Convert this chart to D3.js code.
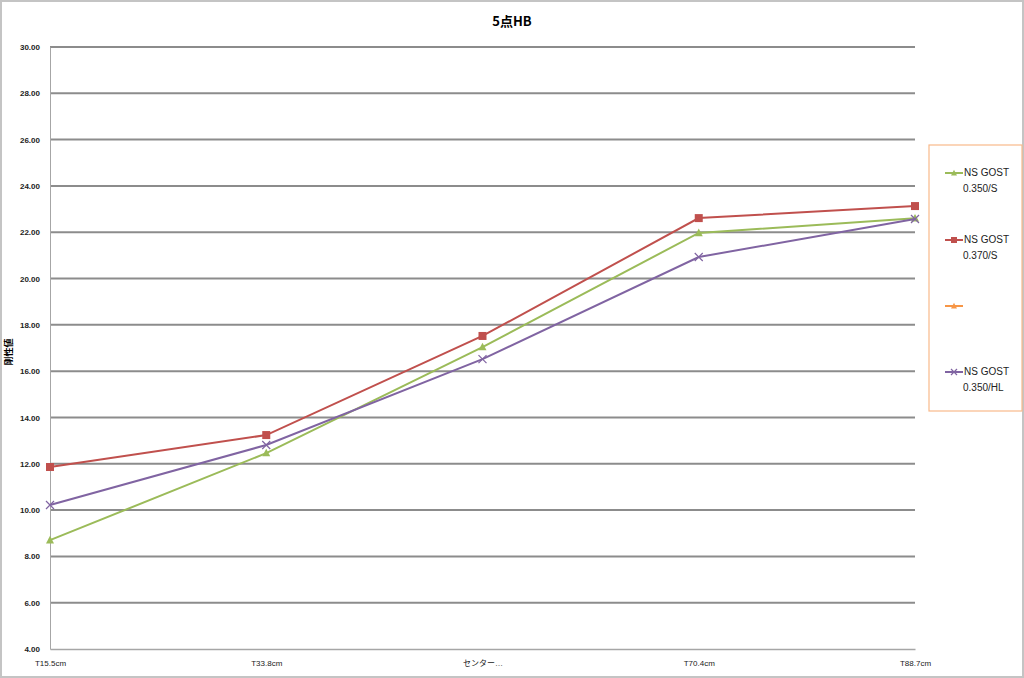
<!DOCTYPE html>
<html><head><meta charset="utf-8">
<script src="https://cdn.jsdelivr.net/npm/d3@7"></script>
<style>body{margin:0;background:#fff}svg{display:block}</style>
</head><body>
<svg id="c" width="1024" height="678"></svg>
<script>
const categories = ["T15.5cm","T33.8cm","センター…","T70.4cm","T88.7cm"];
const seriesNames = ["NS GOST\n0.350/S","NS GOST\n0.370/S","","NS GOST\n0.350/HL"];
const green = [8.70,12.46,17.04,21.97,22.60];
const red = [11.86,13.24,17.52,22.61,23.13];
const orange = [];
const purple = [10.22,12.81,16.52,20.93,22.57];
const yTicks = [4,6,8,10,12,14,16,18,20,22,24,26,28,30];

const series = [
 {name:seriesNames[0], values:green, color:"#9bbb59", marker:"tri"},
 {name:seriesNames[1], values:red, color:"#c0504d", marker:"sq"},
 {name:seriesNames[2], values:orange, color:"#f79646", marker:"tri"},
 {name:seriesNames[3], values:purple, color:"#8064a2", marker:"x"}
];

const svg = d3.select("#c");
svg.append("rect").attr("x",1).attr("y",1).attr("width",1022).attr("height",676)
  .attr("fill","#fff").attr("stroke","#c4c4c4").attr("stroke-width",2);

const x = d3.scalePoint().domain(categories).range([50,915]).padding(0);
const y = d3.scaleLinear().domain([4,30]).range([649,47]);

svg.append("g").selectAll("line").data(yTicks.slice(1)).join("line")
  .attr("x1",50).attr("x2",915).attr("y1",d=>y(d)).attr("y2",d=>y(d))
  .attr("stroke","#8c8c8c").attr("stroke-width",2);

const ya = svg.append("g").attr("transform","translate(50,0)")
  .call(d3.axisLeft(y).tickValues(yTicks).tickFormat(d3.format(".2f")).tickSize(0).tickPadding(10));
ya.select(".domain").attr("stroke","#a6a6a6").attr("stroke-width",1);
ya.selectAll("text").attr("font-family","Liberation Sans, Arial, sans-serif").attr("font-size",8).attr("font-weight","bold").attr("fill","#222");

const xa = svg.append("g").attr("transform","translate(0,649)")
  .call(d3.axisBottom(x).tickSize(0).tickPadding(11));
xa.select(".domain").attr("stroke","#a6a6a6").attr("stroke-width",1.5);
xa.selectAll("text").attr("font-family","Liberation Sans, Arial, 'Noto Sans CJK JP', sans-serif").attr("font-size",8).attr("fill","#222");

svg.append("text").attr("x",512).attr("y",26).attr("text-anchor","middle")
  .attr("font-family","'Noto Sans CJK JP', sans-serif").attr("font-weight","bold").attr("font-size",13).text("5点HB");
svg.append("text").attr("transform","translate(12,352) rotate(-90)").attr("text-anchor","middle")
  .attr("font-family","'Noto Sans CJK JP', sans-serif").attr("font-weight","bold").attr("font-size",9).text("剛性値");

function marker(g, type, color, cx, cy, s){
  if(type==="sq"){
    g.append("rect").attr("x",cx-s).attr("y",cy-s).attr("width",2*s).attr("height",2*s).attr("fill",color);
  } else if(type==="tri"){
    g.append("path").attr("d",`M${cx},${cy-s*1.1}L${cx+s},${cy+s*0.8}L${cx-s},${cy+s*0.8}Z`).attr("fill",color);
  } else {
    g.append("path").attr("d",`M${cx-s},${cy-s}L${cx+s},${cy+s}M${cx-s},${cy+s}L${cx+s},${cy-s}`).attr("stroke",color).attr("stroke-width",1.2);
  }
}

const line = d3.line().x((d,i)=>x(categories[i])).y(d=>y(d));
series.forEach(s=>{
  if(!s.values.length) return;
  const g = svg.append("g");
  g.append("path").attr("d",line(s.values)).attr("fill","none").attr("stroke",s.color).attr("stroke-width",2);
  s.values.forEach((v,i)=>marker(g,s.marker,s.color,x(categories[i]),y(v),4));
});

svg.append("rect").attr("x",929).attr("y",145).attr("width",93).attr("height",266)
  .attr("fill","#fff").attr("stroke","#f9b98a").attr("stroke-width",1.2);
const legY = [173,240,306,372];
series.forEach((s,i)=>{
  const g = svg.append("g");
  g.append("line").attr("x1",945).attr("x2",963).attr("y1",legY[i]).attr("y2",legY[i]).attr("stroke",s.color).attr("stroke-width",2);
  marker(g,s.marker,s.color,954,legY[i],3);
  const t = g.append("text").attr("font-family","Liberation Sans, Arial, sans-serif").attr("font-size",10).attr("fill","#222");
  s.name.split("\n").forEach((ln,j)=>{
    if(ln) t.append("tspan").attr("x",j===0?964:963).attr("y",legY[i]+3+j*15.5).text(ln);
  });
});
</script>
</body></html>
